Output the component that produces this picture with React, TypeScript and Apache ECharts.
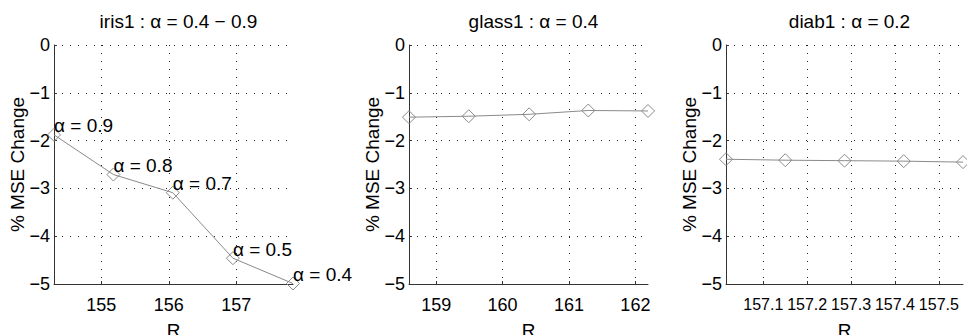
import React, { useEffect, useRef } from "react";
import * as echarts from "echarts";

// Panel titles
const titles = ["iris1 : α = 0.4 − 0.9", "glass1 : α = 0.4", "diab1 : α = 0.2"];

// iris1
const irisR = [154.3, 155.18, 156.06, 156.95, 157.84];
const irisMSE = [-1.88, -2.71, -3.09, -4.46, -4.99];
const irisAlpha = ["α = 0.9", "α = 0.8", "α = 0.7", "α = 0.5", "α = 0.4"];
const irisTicks = [155, 156, 157];

// glass1
const glassR = [158.59, 159.49, 160.4, 161.29, 162.19];
const glassMSE = [-1.51, -1.49, -1.45, -1.37, -1.38];
const glassTicks = [159, 160, 161, 162];

// diab1
const diabR = [157.015, 157.15, 157.285, 157.42, 157.555];
const diabMSE = [-2.39, -2.41, -2.42, -2.43, -2.45];
const diabTicks = [157.1, 157.2, 157.3, 157.4, 157.5];

const yTicks = [0, -1, -2, -3, -4, -5];

const FONT = "Liberation Sans";
const AXIS = "#333";
const GRIDC = "#222";
const LINE = "#8a8a8a";

const grids = [
  { left: 54, top: 45, width: 239, height: 239 },
  { left: 409, top: 45, width: 239, height: 239 },
  { left: 726, top: 45, width: 237, height: 239 },
];

const xRanges = [
  [irisR[0], irisR[irisR.length - 1]],
  [glassR[0], glassR[glassR.length - 1]],
  [diabR[0], diabR[diabR.length - 1]],
];
const xTickSets = [irisTicks, glassTicks, diabTicks];
const xFont = [18, 18, 16];

const minus = (v: number) => (v < 0 ? "−" + String(Math.abs(v)) : String(v));

export default function App() {
  const ref = useRef<HTMLDivElement>(null);
  useEffect(() => {
    if (!ref.current) return;
    const chart = echarts.init(ref.current, undefined, { renderer: "svg" });
    const dotted = { color: GRIDC, width: 1, type: [1, 7] as any };
    const option: any = {
      animation: false,
      backgroundColor: "#fff",
      title: grids.map((g, i) => ({
        text: titles[i],
        left: g.left + g.width / 2,
        top: 7,
        textAlign: "center",
        textStyle: { fontFamily: FONT, fontSize: 19, fontWeight: "normal", color: "#000" },
      })),
      grid: grids.map((g) => ({ ...g, containLabel: false, outerBoundsMode: "none" })),
      xAxis: grids.map((g, i) => ({
        type: "value",
        gridIndex: i,
        min: xRanges[i][0],
        max: xRanges[i][1],
        name: "R",
        nameLocation: "middle",
        nameGap: 37,
        nameMoveOverlap: false,
        nameTextStyle: { fontFamily: FONT, fontSize: 19, color: "#000" },
        axisLine: { show: true, onZero: false, lineStyle: { color: AXIS, width: 1 } },
        axisTick: { show: true, inside: true, length: 3, customValues: xTickSets[i], lineStyle: { color: AXIS } },
        axisLabel: {
          show: true,
          customValues: xTickSets[i],
          margin: 12,
          fontFamily: FONT,
          fontSize: xFont[i],
          color: "#000",
          formatter: (v: number) => String(v),
        },
        splitLine: { show: true, lineStyle: dotted },
      })),
      yAxis: grids.map((g, i) => ({
        type: "value",
        gridIndex: i,
        min: -5,
        max: 0,
        interval: 1,
        name: "% MSE Change",
        nameLocation: "middle",
        nameGap: 27,
        nameRotate: 90,
        nameMoveOverlap: false,
        nameTextStyle: { fontFamily: FONT, fontSize: 19, color: "#000" },
        axisLine: { show: true, lineStyle: { color: AXIS, width: 1 } },
        axisTick: { show: true, inside: true, length: 3, lineStyle: { color: AXIS } },
        axisLabel: {
          show: true,
          margin: 4,
          fontFamily: FONT,
          fontSize: 18,
          color: "#000",
          formatter: (v: number) => minus(v),
          customValues: yTicks,
        },
        splitLine: { show: true, lineStyle: dotted },
      })),
      series: [
        { r: irisR, m: irisMSE, labels: irisAlpha },
        { r: glassR, m: glassMSE, labels: null },
        { r: diabR, m: diabMSE, labels: null },
      ].map((s, i) => ({
        type: "line",
        xAxisIndex: i,
        yAxisIndex: i,
        clip: false,
        data: s.r.map((x, k) => [x, s.m[k]]),
        symbol: "diamond",
        symbolSize: 13,
        showAllSymbol: true,
        lineStyle: { color: LINE, width: 1 },
        itemStyle: { color: "rgba(255,255,255,0)", borderColor: LINE, borderWidth: 1 },
        label: s.labels
          ? {
              show: true,
              position: [7, -2],
              align: "left",
              verticalAlign: "middle",
              fontFamily: FONT,
              fontSize: 19,
              color: "#000",
              formatter: (p: any) => (s.labels as string[])[p.dataIndex],
            }
          : { show: false },
        emphasis: { disabled: true },
        silent: true,
        z: 3,
      })),
    };
    chart.setOption(option);
    return () => chart.dispose();
  }, []);
  return (
    <div
      ref={ref}
      style={{ position: "fixed", left: 0, top: 0, width: 967, height: 335, background: "#fff" }}
    />
  );
}
